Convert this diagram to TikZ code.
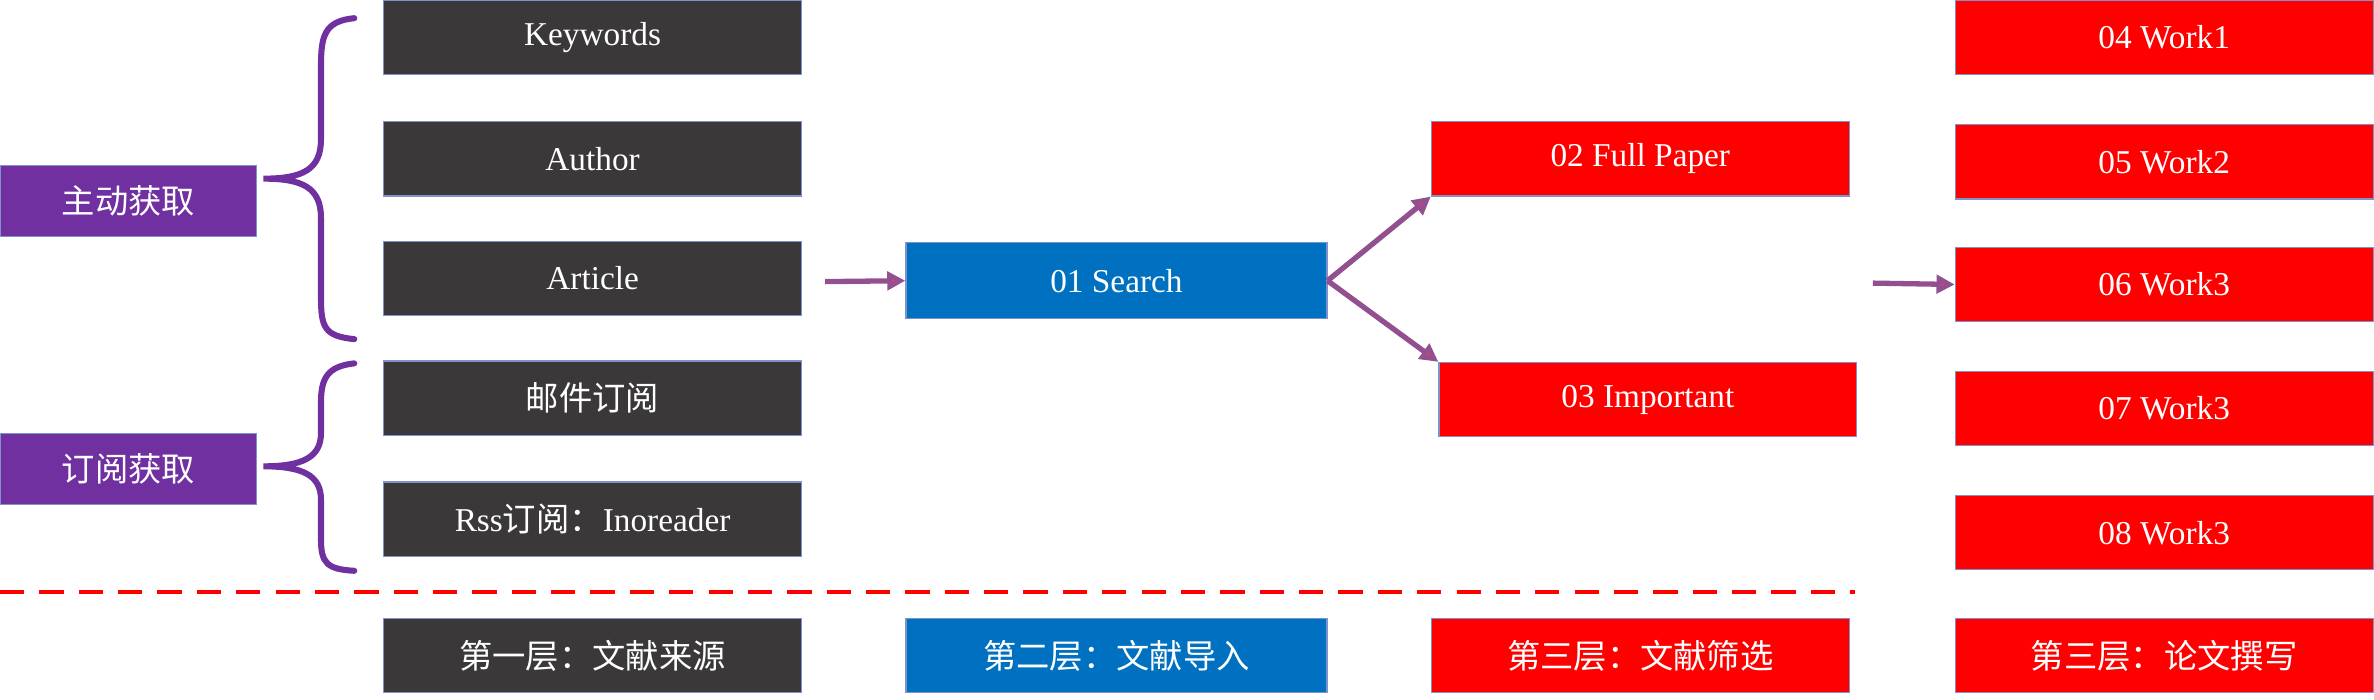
\documentclass[tikz,border=0pt]{standalone}
\usepackage{fontspec}
\setmainfont{Liberation Serif}
\newfontfamily\cjk{Noto Sans CJK SC}
\usetikzlibrary{arrows.meta}
\definecolor{dk}{RGB}{58,56,56}
\definecolor{bl}{RGB}{0,112,192}
\definecolor{rd}{RGB}{255,0,0}
\definecolor{pu}{RGB}{112,48,160}
\definecolor{pk}{RGB}{222,60,110}
\definecolor{ab}{RGB}{70,100,180}
\tikzset{
  bx/.style={draw=ab!70,line width=0.8pt,minimum width=276pt,minimum height=49pt,inner sep=0pt,text=white,font=\fontsize{22}{24}\selectfont,anchor=north west},
  dkb/.style={bx,fill=dk},
  blb/.style={bx,fill=bl},
  rdb/.style={bx,fill=rd},
  pub/.style={bx,fill=pu,minimum width=169pt,minimum height=47pt},
  br/.style={draw=pu,line width=4pt,line cap=round},
  ga/.style={line width=3.5pt,draw=ab!50!pk,-{Triangle[length=12pt,width=12pt,fill=pk]}},
}
\begin{document}
\begin{tikzpicture}[x=1pt,y=-1pt]
\useasboundingbox (0,0) rectangle (1568,462);
\node[dkb] (k) at (253,0) {Keywords};
\node[dkb] (a) at (253,80) {Author};
\node[dkb] (ar) at (253,159) {Article};
\node[dkb] (m) at (253,238) {\cjk 邮件订阅};
\node[dkb] (r) at (253,318) {Rss{\cjk 订阅：}Inoreader};
\node[pub] (p1) at (0,109) {\cjk 主动获取};
\node[pub] (p2) at (0,286) {\cjk 订阅获取};
\node[blb,minimum width=278pt,minimum height=50pt] (s) at (598,160) {01 Search};
\node[rdb] (f) at (945,80) {02 Full Paper};
\node[rdb] (i) at (950,239) {03 Important};
\node[rdb] (w1) at (1291,0) {04 Work1};
\node[rdb] (w2) at (1291,82) {05 Work2};
\node[rdb] (w3) at (1291,163) {06 Work3};
\node[rdb] (w4) at (1291,245) {07 Work3};
\node[rdb] (w5) at (1291,327) {08 Work3};
\node[dkb] (l1) at (253,408) {\cjk 第一层：文献来源};
\node[blb,minimum width=278pt] (l2) at (598,408) {\cjk 第二层：文献导入};
\node[rdb] (l3) at (945,408) {\cjk 第三层：文献筛选};
\node[rdb] (l4) at (1291,408) {\cjk 第三层：论文撰写};
% braces
\draw[br] (234,12) .. controls (214,14) and (212,24) .. (212,44) -- (212,92) .. controls (212,112) and (200,118) .. (174,118)
  .. controls (200,118) and (212,124) .. (212,144) -- (212,196) .. controls (212,216) and (214,222) .. (234,224);
\draw[br] (234,240) .. controls (216,242) and (212,250) .. (212,266) -- (212,286) .. controls (212,302) and (200,308) .. (174,308)
  .. controls (200,308) and (212,314) .. (212,330) -- (212,356) .. controls (212,372) and (216,376) .. (234,377);
% arrows
\coordinate (a1) at (545,186);
\draw[ga] (a1) -- (s.west);
\draw[ga] (s.east) -- (f.south west);
\draw[ga] (s.east) -- (i.north west);
\coordinate (a2) at (1237,187);
\draw[ga] (a2) -- (w3.west);
\coordinate (d1) at (0,391);
\coordinate (d2) at (1225,391);
\draw[rd,line width=3pt,dash pattern=on 16pt off 10pt] (d1) -- (d2);
\end{tikzpicture}
\end{document}
